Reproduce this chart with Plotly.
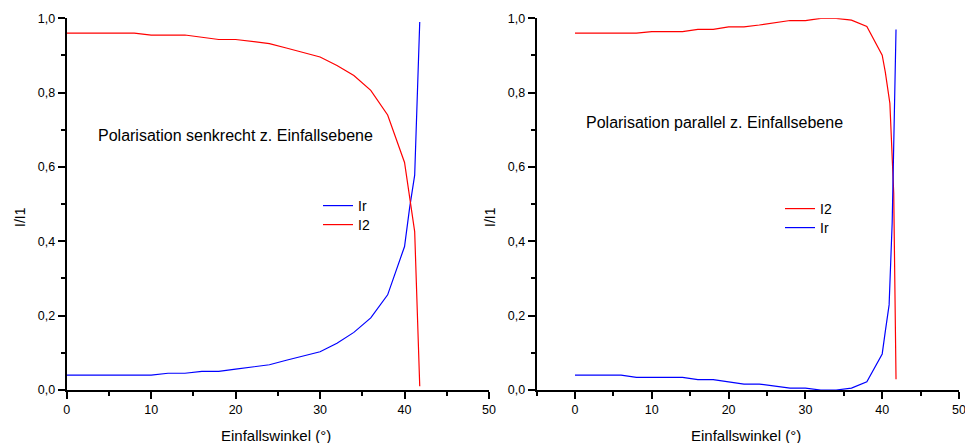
import plotly.graph_objects as go

# ---- data ----
# left panel: polarisation perpendicular
left_ir_x = [0, 2, 4, 6, 8, 10, 12, 14, 16, 18, 20, 22, 24, 26, 28, 30, 32, 34, 36, 38, 40, 40.6, 41.2, 41.4, 41.8]
left_ir_y = [0.04, 0.04, 0.04, 0.04, 0.04, 0.04, 0.045, 0.045, 0.05, 0.05, 0.056, 0.062, 0.068, 0.08, 0.092,
             0.103, 0.126, 0.155, 0.194, 0.256, 0.386, 0.49, 0.578, 0.71, 0.99]
left_i2_x = [0, 2, 4, 6, 8, 10, 12, 14, 16, 18, 20, 22, 24, 26, 28, 30, 32, 34, 36, 38, 40, 40.6, 41.2, 41.8]
left_i2_y = [0.96, 0.96, 0.96, 0.96, 0.96, 0.955, 0.955, 0.955, 0.949, 0.943, 0.943, 0.937, 0.932, 0.92, 0.907,
             0.896, 0.873, 0.846, 0.806, 0.74, 0.612, 0.52, 0.426, 0.01]

# right panel: polarisation parallel
right_i2_x = [0, 2, 4, 6, 8, 10, 12, 14, 16, 18, 20, 22, 24, 26, 28, 30, 32, 34, 36, 38, 40, 40.4, 41.0, 41.5, 41.8]
right_i2_y = [0.96, 0.96, 0.96, 0.96, 0.96, 0.964, 0.964, 0.964, 0.97, 0.97, 0.977, 0.977, 0.982, 0.988, 0.994,
              0.994, 1.0, 1.0, 0.995, 0.978, 0.901, 0.856, 0.771, 0.53, 0.029]
right_ir_x = [0, 2, 4, 6, 8, 10, 12, 14, 16, 18, 20, 22, 24, 26, 28, 30, 32, 34, 36, 38, 40, 40.4, 40.9, 41.3, 41.6, 41.8]
right_ir_y = [0.04, 0.04, 0.04, 0.04, 0.034, 0.034, 0.034, 0.034, 0.028, 0.028, 0.022, 0.016, 0.016, 0.01, 0.005,
              0.005, 0.0, 0.0, 0.005, 0.022, 0.097, 0.157, 0.229, 0.45, 0.75, 0.97]

left_title = "Polarisation senkrecht z. Einfallsebene"
right_title = "Polarisation parallel z. Einfallsebene"
x_title = "Einfallswinkel (°)"
y_title = "I/I1"

W, H = 965, 443
FONT = "Liberation Sans, Arial, sans-serif"
BLUE = "#0000FF"
RED = "#FF0000"


def px(x):
    return x / W


def py(y):
    return (H - y) / H


fig = go.Figure()
fig.add_trace(go.Scatter(x=left_ir_x, y=left_ir_y, mode="lines", name="Ir", line=dict(color=BLUE, width=1.2),
                         xaxis="x", yaxis="y", legend="legend"))
fig.add_trace(go.Scatter(x=left_i2_x, y=left_i2_y, mode="lines", name="I2", line=dict(color=RED, width=1.2),
                         xaxis="x", yaxis="y", legend="legend2"))
fig.add_trace(go.Scatter(x=right_i2_x, y=right_i2_y, mode="lines", name="I2", line=dict(color=RED, width=1.2),
                         xaxis="x2", yaxis="y2", legend="legend3"))
fig.add_trace(go.Scatter(x=right_ir_x, y=right_ir_y, mode="lines", name="Ir", line=dict(color=BLUE, width=1.2),
                         xaxis="x2", yaxis="y2", legend="legend4"))

ydom = [py(390), py(18.3)]

common_axis = dict(showline=True, linewidth=2, linecolor="black", showgrid=False, zeroline=False,
                   ticks="outside", ticklen=7, tickwidth=2, tickcolor="black", ticklabeloverflow="allow",
                   tickfont=dict(family=FONT, size=12.5, color="black"), automargin=False)
minor_x = dict(ticks="outside", ticklen=4, tickwidth=2, tickcolor="black", dtick=5, tick0=0)
minor_y = dict(ticks="outside", ticklen=4, tickwidth=2, tickcolor="black", dtick=0.1, tick0=0)


def leg(xp, top):
    return dict(x=px(xp), y=py(top), xanchor="left", yanchor="top", bgcolor="rgba(0,0,0,0)",
                font=dict(family=FONT, size=14, color="black"))


fig.update_layout(
    width=W, height=H,
    margin=dict(l=0, r=0, t=0, b=0),
    paper_bgcolor="white", plot_bgcolor="white",
    separators=",.",
    font=dict(family=FONT, color="black"),
    xaxis=dict(domain=[px(66.7), px(489)], range=[0, 50], anchor="y", dtick=10, tick0=0, minor=minor_x,
               **common_axis),
    yaxis=dict(domain=ydom, range=[0, 1], anchor="x", dtick=0.2, tick0=0, tickformat=".1f", minor=minor_y,
               **common_axis),
    xaxis2=dict(domain=[px(536.6), px(959)], range=[-5, 50], anchor="y2", dtick=10, tick0=0, minor=minor_x,
                **common_axis),
    yaxis2=dict(domain=ydom, range=[0, 1], anchor="x2", dtick=0.2, tick0=0, tickformat=".1f", minor=minor_y,
                **common_axis),
    legend=leg(318, 190),
    legend2=leg(318, 209),
    legend3=leg(780, 193),
    legend4=leg(780, 212),
    showlegend=True,
)

annos = [
    dict(text=left_title, x=20, y=0.686, xref="x", yref="y", showarrow=False,
         xanchor="center", yanchor="middle", font=dict(family=FONT, size=16, color="black")),
    dict(text=right_title, x=18.1, y=0.721, xref="x2", yref="y2", showarrow=False,
         xanchor="center", yanchor="middle", font=dict(family=FONT, size=16, color="black")),
    dict(text=x_title, x=px(276), y=py(435), xref="paper", yref="paper", showarrow=False,
         xanchor="center", yanchor="middle", font=dict(family=FONT, size=15, color="black")),
    dict(text=x_title, x=px(746), y=py(435), xref="paper", yref="paper", showarrow=False,
         xanchor="center", yanchor="middle", font=dict(family=FONT, size=15, color="black")),
    dict(text=y_title, x=px(20), y=py(217), xref="paper", yref="paper", showarrow=False, textangle=-90,
         xanchor="center", yanchor="middle", font=dict(family=FONT, size=14, color="black")),
    dict(text=y_title, x=px(490), y=py(217), xref="paper", yref="paper", showarrow=False, textangle=-90,
         xanchor="center", yanchor="middle", font=dict(family=FONT, size=14, color="black")),
]
fig.update_layout(annotations=annos)

fig.write_html("out.html", config={"displayModeBar": False},
               post_script="document.body.style.margin='0';document.body.style.overflow='hidden';")
